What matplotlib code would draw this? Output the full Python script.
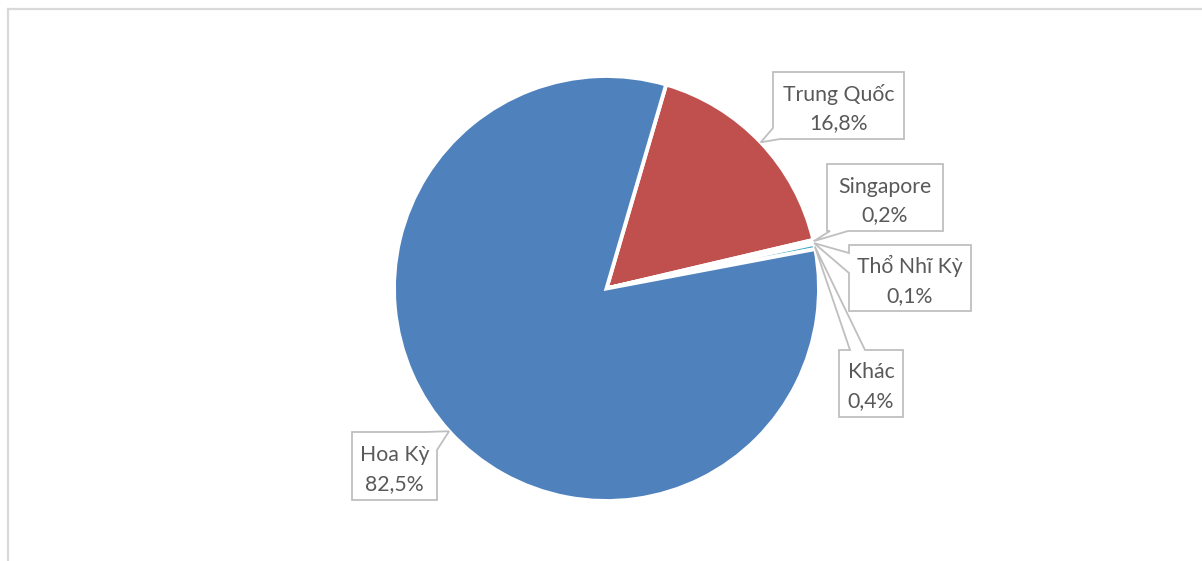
import matplotlib
matplotlib.use("Agg")
import matplotlib.pyplot as plt
from matplotlib.patches import Polygon
from matplotlib.lines import Line2D
import numpy as np

# Export market shares (%)
countries = ["Trung Quốc", "Singapore", "Thổ Nhĩ Kỳ", "Khác", "Hoa Kỳ"]
shares = [16.8, 0.2, 0.1, 0.4, 82.5]
share_labels = ["16,8%", "0,2%", "0,1%", "0,4%", "82,5%"]
colors = ["#C0504D", "#9BBB59", "#8064A2", "#4BACC6", "#4F81BD"]

W, H = 1202, 561
fig = plt.figure(figsize=(W / 100, H / 100), dpi=100)
ax = fig.add_axes([0, 0, 1, 1])

# work in pixel units, y measured from the top
def Y(y):
    return H - y

cx, cy, R = 606.5, 288.5, 212.5
start_from_top = 16.3  # degrees clockwise from 12 o'clock

wedges, _ = ax.pie(shares, colors=colors, radius=R, center=(cx, Y(cy)),
                   startangle=90 - start_from_top, counterclock=False,
                   wedgeprops=dict(edgecolor="white", linewidth=2.8))
ax.set_xlim(0, W)
ax.set_ylim(0, H)
ax.set_aspect("auto")
ax.axis("off")

# chart area border (top and left edges visible)
fig.add_artist(Line2D([8 / W, 8 / W], [0, 1 - 9 / H], color="#d9d9d9", lw=1.6))
fig.add_artist(Line2D([8 / W, 1], [1 - 9 / H, 1 - 9 / H], color="#d9d9d9", lw=1.6))


def callout(box, base_a, base_b, tip):
    """Rectangle callout with a tapered pointer; coordinates in pixels (y down)."""
    x0, y0, x1, y1 = box
    w, h = x1 - x0, y1 - y0
    P = 2 * (w + h)

    def t_of(p):
        x, y = p
        if abs(y - y0) < 1e-6:
            return x - x0
        if abs(x - x1) < 1e-6:
            return w + (y - y0)
        if abs(y - y1) < 1e-6:
            return w + h + (x1 - x)
        return 2 * w + h + (y1 - y)

    ta, tb = t_of(base_a), t_of(base_b)
    if (tb - ta) % P > P / 2:
        ta, tb = tb, ta
        base_a, base_b = base_b, base_a
    corners = [(0, (x0, y0)), (w, (x1, y0)), (w + h, (x1, y1)), (2 * w + h, (x0, y1))]
    verts = [base_b]
    span = (ta - tb) % P
    for tc, c in sorted(corners, key=lambda tc: (tc[0] - tb) % P):
        if 0 < (tc - tb) % P < span:
            verts.append(c)
    verts.append(base_a)
    verts.append(tip)
    verts = [(x, Y(y)) for x, y in verts]
    ax.add_patch(Polygon(verts, closed=True, facecolor="white",
                         edgecolor="#bfbfbf", lw=1.3, zorder=5))


# anchor of each label: rim point at the middle of its wedge
fr = np.array(shares) / sum(shares)
mids = start_from_top + 360 * (np.cumsum(fr) - fr / 2)
tips = [(cx + R * np.sin(np.radians(a)), cy - R * np.cos(np.radians(a))) for a in mids]

boxes = [(773, 72, 904, 139), (827, 164, 943, 231), (849, 245, 971, 311),
         (839, 350, 903, 417), (352, 432, 437, 500)]
bases = [((780, 139), (773, 128)),
         ((830, 231), (848, 231)),
         ((849, 253), (849, 273)),
         ((850, 350), (865, 350)),
         ((425, 432), (437, 450))]

for name, lab, box, (ba, bb), tip in zip(countries, share_labels, boxes, bases, tips):
    callout(box, ba, bb, tip)
    bx = (box[0] + box[2]) / 2
    by = (box[1] + box[3]) / 2
    ax.text(bx, Y(by - 5), name, ha="center", va="baseline", fontsize=15.3,
            family="Lato", color="#595959", zorder=6)
    ax.text(bx, Y(by + 24), lab, ha="center", va="baseline", fontsize=15.3,
            family="Lato", color="#595959", zorder=6)

fig.savefig("out.png", dpi=100)
